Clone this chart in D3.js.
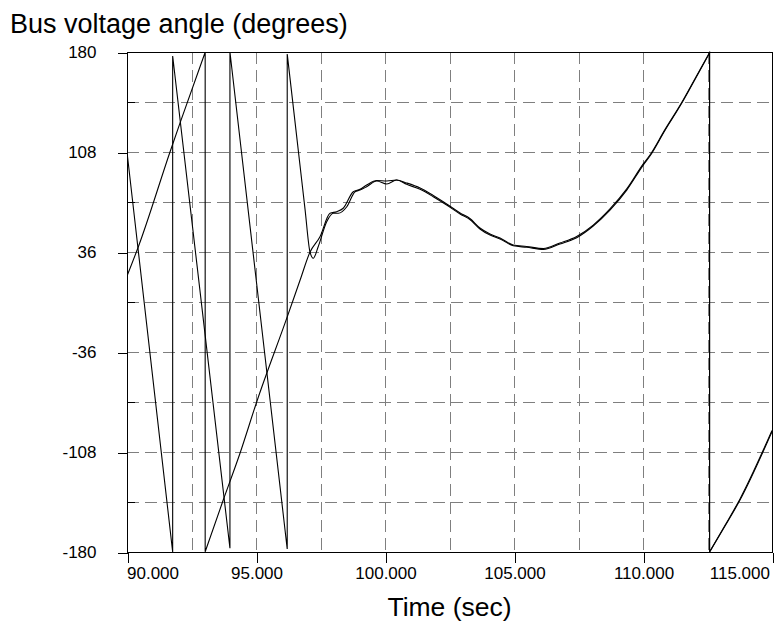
<!DOCTYPE html>
<html>
<head>
<meta charset="utf-8">
<script src="https://cdn.jsdelivr.net/npm/d3@7"></script>
<style>
  html, body { margin: 0; padding: 0; background: #fff; }
  svg { display: block; }
  text { font-family: "Liberation Sans", Arial, Helvetica, sans-serif; fill: #000; }
</style>
</head>
<body>
<svg id="chart" width="774" height="622"></svg>
<script>
// Bus voltage angle traces (time in s, angle in degrees, wrapped to ±180)
const timeA = [90.00, 91.77, 91.77, 93.99, 93.99, 96.21, 96.21, 96.50, 96.90, 97.09, 97.22, 97.41,
  97.74, 98.00, 98.19, 98.52, 98.84, 99.03, 99.29, 99.68, 100.07, 100.45,
  100.84, 101.36, 101.87, 102.39, 102.91, 103.29, 103.68, 104.07, 104.46, 104.97,
  105.49, 106.14, 106.78, 107.43, 108.07, 108.72, 109.37, 110.01, 110.27, 110.85,
  111.50, 112.02, 112.58, 112.58, 113.18, 113.76, 115.00];
const angleA = [108.0, -180, 177.1, -177.3, 180, -177.8, 178.6, 131.7, 66.9, 36.2, 31.5, 39.8,
  57.8, 63.9, 63.9, 68.6, 79.4, 80.6, 83.0, 87.1, 85.0, 87.8,
  84.7, 81.1, 75.8, 69.8, 63.4, 59.4, 52.6, 48.2, 45.4, 40.5,
  39.4, 37.9, 41.8, 46.3, 54.7, 66.2, 80.6, 98.6, 105.1, 123.5,
  143.1, 160.4, 179.3, -180, -161.3, -142.6, -93.4];

const timeB = [90.00, 90.44, 91.67, 92.05, 93.03, 93.03, 93.73, 94.38, 95.03, 96.19,
  96.71, 97.09, 97.48, 97.87, 98.13, 98.38, 98.77, 99.03, 99.29, 99.68,
  100.07, 100.45, 100.84, 101.36, 101.87, 102.39, 102.91, 103.29, 103.68, 104.07,
  104.46, 104.97, 105.49, 106.14, 106.78, 107.43, 108.07, 108.72, 109.37, 110.01,
  110.27, 110.85, 111.50, 112.02, 112.58, 112.58, 113.18, 113.76, 115.00];
const angleB = [18.7, 39.8, 108.2, 128.6, 179.8, -179.8, -142.6, -108.9, -71.8, -11.8,
  15.8, 35.8, 47.0, 63.9, 65.0, 67.5, 79.4, 81.1, 84.2, 87.5,
  87.1, 87.8, 85.7, 82.1, 76.7, 70.6, 64.1, 60.1, 53.3, 49.0,
  46.1, 41.0, 40.0, 38.5, 42.5, 47.2, 55.4, 67.0, 81.4, 99.4,
  105.8, 124.1, 143.6, 160.9, 179.6, -180, -160.8, -141.8, -92.5];

// Axis ticks
const xTicks = [90, 95, 100, 105, 110, 115];
const xTickLabels = ["90.000", "95.000", "100.000", "105.000", "110.000", "115.000"];
const xGrid = [92.5, 95, 97.5, 100, 102.5, 105, 107.5, 110, 112.5];
const yTicks = [-180, -108, -36, 36, 108, 180];
const yTickLabels = ["-180", "-108", "-36", "36", "108", "180"];
const yGrid = [-144, -108, -72, -36, 0, 36, 72, 108, 144];
const yMinor = [-144, -72, 0, 72, 144];

const svg = d3.select("#chart");
const plotLeft = 127, plotRight = 772, plotTop = 52, plotBottom = 552;

const x = d3.scaleLinear().domain([90, 115]).range([plotLeft, plotRight]);
const y = d3.scaleLinear().domain([-180, 180]).range([plotBottom, plotTop]);

// Dashed grid
const grid = svg.append("g").attr("stroke", "#7f7f7f").attr("stroke-width", 1)
  .attr("stroke-dasharray", "12,6").attr("shape-rendering", "crispEdges");
grid.selectAll("line.h").data(yGrid).join("line").attr("class", "h")
  .attr("x1", plotLeft).attr("x2", plotRight)
  .attr("y1", d => Math.round(y(d)) + 0.5).attr("y2", d => Math.round(y(d)) + 0.5);
grid.selectAll("line.v").data(xGrid).join("line").attr("class", "v")
  .attr("y1", plotTop).attr("y2", plotBottom)
  .attr("x1", d => Math.round(x(d)) + 0.5).attr("x2", d => Math.round(x(d)) + 0.5);

// Traces
svg.append("clipPath").attr("id", "plotClip").append("rect")
  .attr("x", plotLeft).attr("y", plotTop - 1)
  .attr("width", plotRight - plotLeft).attr("height", plotBottom - plotTop + 2);

// Split a trace at its ±180 wrap points, smooth each continuous run,
// and join the runs with straight wrap segments.
function tracePath(times, angles) {
  const pts = times.map((t, i) => [t, angles[i]]);
  const pieces = [];
  let cur = [pts[0]];
  for (let i = 1; i < pts.length; i++) {
    if (pts[i][0] === pts[i - 1][0]) { pieces.push(cur); cur = [pts[i]]; }
    else cur.push(pts[i]);
  }
  pieces.push(cur);
  const line = d3.line().x(d => x(d[0])).y(d => y(d[1])).curve(d3.curveMonotoneX);
  return pieces.map((p, i) => {
    const s = line(p);
    return i === 0 ? s : "L" + s.slice(1);
  }).join("");
}

const traces = svg.append("g").attr("clip-path", "url(#plotClip)")
  .attr("fill", "none").attr("stroke", "#000").attr("stroke-width", 1.1);
traces.append("path").attr("d", tracePath(timeA, angleA));
traces.append("path").attr("d", tracePath(timeB, angleB));

// Frame
svg.append("rect").attr("x", plotLeft + 0.5).attr("y", plotTop + 0.5)
  .attr("width", plotRight - plotLeft).attr("height", plotBottom - plotTop)
  .attr("fill", "none").attr("stroke", "#000").attr("stroke-width", 1)
  .attr("shape-rendering", "crispEdges");

// Y axis
const yAxis = svg.append("g").attr("transform", `translate(${plotLeft + 0.5},0.5)`)
  .call(d3.axisLeft(y).tickValues(yTicks).tickSize(10).tickPadding(21)
    .tickFormat((d, i) => yTickLabels[i]));
yAxis.select(".domain").remove();
yAxis.selectAll("line").attr("stroke", "#000").attr("shape-rendering", "crispEdges");
yAxis.selectAll("text").attr("font-size", 17).attr("fill", "#000")
  .style("font-family", "'Liberation Sans', Arial, sans-serif");

// Minor inner ticks on the y axis
svg.append("g").selectAll("line").data(yMinor).join("line")
  .attr("x1", plotLeft).attr("x2", plotLeft + 8)
  .attr("y1", d => Math.round(y(d)) + 0.5).attr("y2", d => Math.round(y(d)) + 0.5)
  .attr("stroke", "#000").attr("shape-rendering", "crispEdges");

// X axis
const xAxis = svg.append("g").attr("transform", `translate(0.5,${plotBottom + 0.5})`)
  .call(d3.axisBottom(x).tickValues(xTicks).tickSize(10).tickPadding(4)
    .tickFormat((d, i) => xTickLabels[i]));
xAxis.select(".domain").remove();
xAxis.selectAll("line").attr("stroke", "#000").attr("shape-rendering", "crispEdges");
xAxis.selectAll("text").attr("font-size", 17).attr("fill", "#000")
  .style("font-family", "'Liberation Sans', Arial, sans-serif")
  .attr("text-anchor", (d, i) => i === 0 ? "start" : (i === xTicks.length - 1 ? "end" : "middle"))
  .attr("dx", (d, i) => i === 0 ? -1 : (i === xTicks.length - 1 ? -3 : 0));

// Titles
svg.append("text").attr("x", 10).attr("y", 33).attr("font-size", 27)
  .text("Bus voltage angle (degrees)");
svg.append("text").attr("x", (plotLeft + plotRight) / 2).attr("y", 616)
  .attr("text-anchor", "middle").attr("font-size", 26.5)
  .text("Time (sec)");
</script>
</body>
</html>
